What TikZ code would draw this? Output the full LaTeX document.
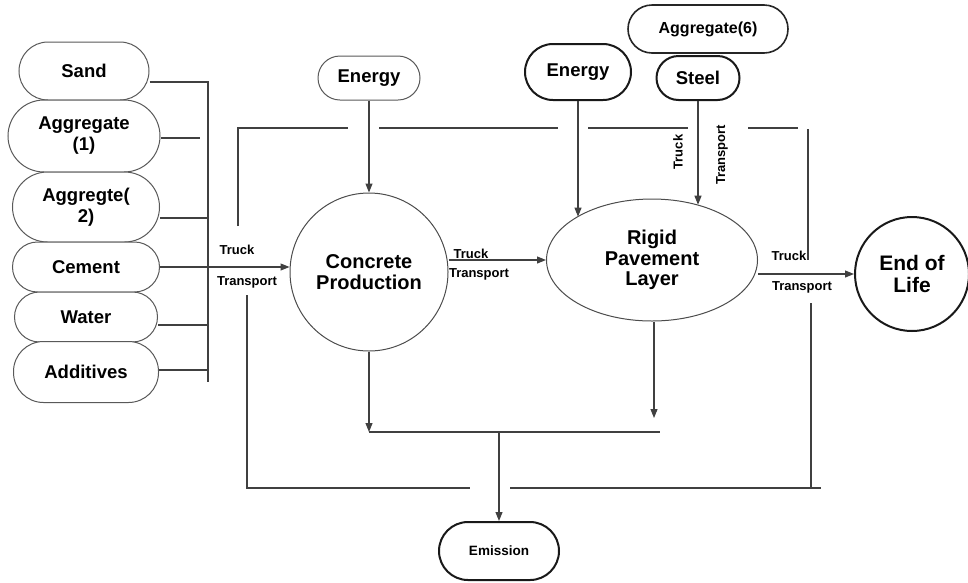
\documentclass[tikz,border=0pt]{standalone}
\usepackage{fontspec}
\setmainfont{Liberation Sans}
\usetikzlibrary{arrows.meta,shapes.geometric}
\begin{document}
\begin{tikzpicture}[x=1pt,y=-1pt,
  line/.style={draw=black!75, line width=1.1pt},
  arr/.style={line, -{Triangle[length=9pt,width=7pt]}},
  pill/.style={draw=black!65, line width=1pt, inner sep=0pt, align=center, fill=white,
    font=\bfseries\fontsize{18.5}{21}\selectfont},
  pillb/.style={pill, draw=black!90, line width=2pt},
  proc/.style={draw=black!70, line width=1pt, inner sep=0pt, align=center,
    font=\bfseries\fontsize{20}{20.5}\selectfont},
  lab/.style={inner sep=0pt, font=\bfseries\fontsize{13}{14}\selectfont}
]
\useasboundingbox (0,0) rectangle (968,582);

% left inputs
\node[pill, minimum width=130pt, minimum height=58pt, rounded corners=29pt] (sand) at (84,71) {Sand};
\node[pill, minimum width=152pt, minimum height=72pt, rounded corners=36pt] (agg1) at (84,136) {Aggregate\\(1)};
\node[pill, minimum width=147pt, minimum height=70pt, rounded corners=35pt] (agg2) at (86,207) {Aggregte(\\2)};
\node[pill, minimum width=147pt, minimum height=50pt, rounded corners=25pt] (cement) at (86,267) {Cement};
\node[pill, minimum width=143pt, minimum height=50pt, rounded corners=25pt] (water) at (86,317) {Water};
\node[pill, minimum width=145pt, minimum height=61pt, rounded corners=30pt] (addit) at (86,372) {Additives};

% top inputs
\node[pill, minimum width=102pt, minimum height=44pt, rounded corners=22pt] (en1) at (369,78) {Energy};
\node[pillb, minimum width=106pt, minimum height=56pt, rounded corners=28pt] (en2) at (578,72) {Energy};
\node[pill, draw=black!85, line width=1.6pt, minimum width=160pt, minimum height=48pt, rounded corners=24pt,
  font=\bfseries\fontsize{16}{17}\selectfont] (agg6) at (708,29) {Aggregate(6)};
\node[pillb, minimum width=83pt, minimum height=44pt, rounded corners=22pt] (steel) at (698,78) {Steel};

% processes
\node[proc, circle, minimum size=158pt] (conc) at (369,272) {Concrete\\Production};
\node[proc, ellipse, minimum width=211pt, minimum height=122pt] (rigid) at (652,260) {Rigid\\Pavement\\Layer};
\node[proc, circle, draw=black!90, line width=2pt, minimum size=114pt,
  font=\bfseries\fontsize{21}{22}\selectfont] (eol) at (912,274) {End of\\Life};
\node[pillb, minimum width=120pt, minimum height=58pt, rounded corners=29pt,
  font=\bfseries\fontsize{13.5}{14}\selectfont] (emis) at (499,551) {Emission};

% bus on the left
\coordinate (b1) at (208,82);
\coordinate (b2) at (208,218);
\coordinate (b5) at (208,325);
\coordinate (b6) at (208,370);
\coordinate (bend) at (208,382);
\coordinate (a1) at (200,138);
\draw[line] (sand.east |- b1) -- (b1) -- (bend);
\draw[line] (agg1.east |- a1) -- (a1);
\draw[line] (agg2.east |- b2) -- (b2);
\draw[line] (water.east |- b5) -- (b5);
\draw[line] (addit.east |- b6) -- (b6);

% main flow
\draw[arr] (cement.east) -- (cement.east -| conc.west);
\draw[arr] (conc.east |- rigid.west) -- (rigid.west);
\draw[arr] (rigid.east |- eol.west) -- (eol.west);
\draw[arr] (en1.south) -- (conc.north);
\draw[arr] (en2.south) -- (en2.south |- rigid.150);
\draw[arr] (steel.south) -- (steel.south |- rigid.50);

% emissions
\coordinate (jl) at (369,432);
\coordinate (jr) at (660,432);
\coordinate (jm) at (499,432);
\coordinate (rt) at (654,418);
\draw[arr] (conc.south) -- (jl);
\draw[arr] (rigid.south -| rt) -- (rt);
\draw[line] (jl) -- (jr);
\draw[arr] (jm) -- (emis.north);

% boundary (broken outline)
\draw[line] (238,226) -- (238,128) -- (348,128);
\draw[line] (379,128) -- (558,128);
\draw[line] (588,128) -- (688,128);
\draw[line] (748,128) -- (798,128);
\draw[line] (808,129) -- (808,260);
\draw[line] (247,295) -- (247,488) -- (470,488);
\draw[line] (510,488) -- (821,488);
\draw[line] (811,303) -- (811,488);

% labels
\node[lab] (t1) at (237,250) {Truck};
\node[lab] (p1) at (247,282) {Transport};
\node[lab] (t2) at (471,254) {Truck};
\node[lab] (p2) at (479,274) {Transport};
\node[lab] (t3) at (789,256) {Truck};
\node[lab] (p3) at (802,287) {Transport};
\node[lab, rotate=90] (t4) at (678,152) {Truck};
\node[lab, rotate=90] (p4) at (722,155) {Transport};
\end{tikzpicture}
\end{document}
